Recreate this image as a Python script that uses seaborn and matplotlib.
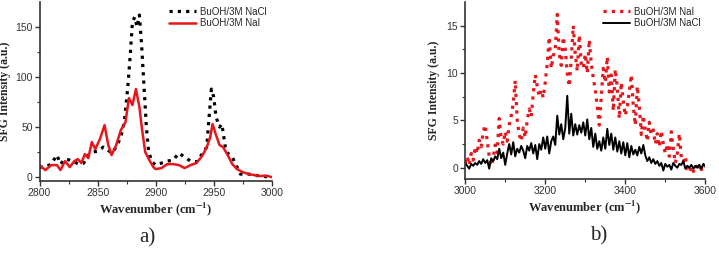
import numpy as np
import pandas as pd
import matplotlib
matplotlib.use("Agg")
import matplotlib.pyplot as plt
import seaborn as sns

# === data: panel a (C-H region) ===
wn_a = [2800, 2805, 2810, 2815, 2818, 2822, 2826, 2830, 2833, 2836, 2839, 2842, 2845,
        2848, 2852, 2856, 2859, 2862, 2866, 2870, 2874, 2877, 2880, 2883, 2886, 2888,
        2891, 2895, 2898, 2900, 2905, 2910, 2915, 2920, 2925, 2930, 2935, 2940, 2944,
        2947, 2949, 2952, 2955, 2958, 2962, 2966, 2970, 2975, 2980, 2985, 2990, 2995, 3000]
nai_a = [12, 7, 12, 12, 7, 16, 10, 16, 18, 14, 23, 19, 35,
         28, 38, 52, 33, 22, 32, 47, 55, 79, 72, 88, 70, 50,
         25, 16, 10, 8, 9, 13, 13, 12, 9, 12, 14, 21, 30,
         40, 53, 42, 32, 30, 22, 13, 8, 5, 3, 2, 1, 1.5, 0]

wn_a2 = [2800, 2805, 2810, 2815, 2818, 2822, 2826, 2830, 2834, 2838, 2842, 2846, 2850,
         2855, 2858, 2862, 2866, 2870, 2873, 2876, 2878, 2880, 2882, 2884, 2886, 2888,
         2890, 2892, 2894, 2897, 2900, 2905, 2910, 2915, 2920, 2925, 2930, 2935, 2940,
         2944, 2946, 2948, 2950, 2952, 2955, 2957, 2960, 2963, 2966, 2970, 2973, 2980,
         2990, 3000]
nacl_a = [10, 10, 13, 22, 13, 18, 17, 15, 13, 14, 22, 25, 26,
          30, 28, 24, 30, 40, 55, 90, 120, 155, 160, 150, 162, 130,
          90, 50, 25, 15, 12, 14, 16, 17, 24, 20, 16, 15, 23,
          30, 60, 88, 80, 60, 50, 53, 30, 22, 20, 10, 3, 3,
          1, 0]

# === data: panel b (O-H region), every 5 cm-1 from 3000 to 3600 ===
wn_b = np.arange(3000, 3601, 5)
nai_b = [0.5, 1.2, 0.3, 1.5, 0.8, 2.2, 1.5, 2.9, 2.2, 3.8, 4.5, 2.8, 1.2, 0.2, 1.0, 2.4,
         1.6, 5.2, 3.0, 2.5, 3.8, 2.8, 4.5, 5.5, 6.8, 9.2, 5.0, 3.5, 2.8, 4.2, 3.2, 5.0,
         6.2, 5.4, 7.8, 9.8, 8.6, 7.5, 8.2, 7.4, 9.0, 11.0, 13.8, 10.5, 11.8, 12.5, 16.2, 12.0,
         10.8, 13.8, 12.5, 10.0, 8.6, 11.5, 15.0, 12.0, 10.2, 14.0, 11.0, 10.5, 12.0, 10.0, 13.5, 11.0,
         9.5, 8.2, 6.5, 4.5, 7.5, 10.5, 9.0, 11.7, 8.0, 9.8, 6.0, 10.4, 8.5, 5.2, 9.0, 7.0,
         5.5, 6.5, 8.0, 9.8, 6.5, 4.5, 8.6, 6.5, 3.5, 5.5, 4.0, 2.8, 4.8, 3.5, 4.0, 2.5,
         3.6, 2.2, 3.9, 2.5, 1.5, 2.5, 1.2, 3.8, 2.0, 0.5, 1.5, 3.6, 1.0, 0.6, 1.2, -0.2,
         -0.5, 0.1, -0.4, 0.3, -0.3, 0.4, -0.2, 0.3, 0.1]
nacl_b = [0.5, 0.2, -0.1, 0.4, 0.2, 0.5, 0.3, 0.7, 0.4, 0.9, 0.5, 0.8, -0.1, 1.0, 0.7, 1.2,
          0.9, 2.0, 1.0, 1.6, 0.3, 1.5, 2.5, 1.4, 2.7, 1.2, 2.0, 1.6, 2.3, 1.8, 1.0, 2.3,
          1.8, 2.6, 1.5, 2.4, 0.9, 2.5, 1.9, 3.2, 2.0, 3.3, 1.5, 2.8, 3.3, 2.4, 5.5, 3.5,
          4.6, 3.0, 4.2, 7.6, 3.6, 5.7, 3.4, 4.6, 3.5, 4.5, 3.7, 4.8, 3.4, 5.1, 3.0, 4.2,
          2.2, 3.6, 2.0, 2.8, 1.8, 3.2, 2.0, 4.1, 2.4, 3.6, 1.9, 3.2, 1.7, 2.8, 1.5, 2.7,
          1.3, 2.6, 1.1, 2.3, 1.4, 1.9, 1.3, 2.2, 1.5, 2.4, 1.3, 0.7, 1.1, 0.5, 0.9, 0.4,
          0.7, 0.2, 0.5, -0.3, 0.4, 0.1, 0.3, -0.2, 0.5, 0.2, 0.0, 0.4, 0.3, 0.7, -0.1, 0.2,
          0.0, 0.3, -0.1, 0.2, 0.0, 0.3, -0.1, 0.4, 0.2]

sns.set_style("ticks")
plt.rcParams["font.family"] = ["Liberation Sans", "DejaVu Sans"]
plt.rcParams["mathtext.fontset"] = "stix"

fig = plt.figure(figsize=(7.19, 2.54), dpi=100)
ax1 = fig.add_axes([0.055, 0.287, 0.323, 0.705])
ax2 = fig.add_axes([0.647, 0.295, 0.334, 0.697])

dot = (1.0, 1.6)

# --- panel a ---
sns.lineplot(x=wn_a2, y=nacl_a, ax=ax1, color="black", lw=2.3, label="BuOH/3M NaCl")
ax1.lines[-1].set_dashes(dot)
sns.lineplot(x=wn_a, y=nai_a, ax=ax1, color="#e8161b", lw=1.8, label="BuOH/3M NaI")
ax1.set_xlim(2800, 3000)
ax1.set_ylim(-4, 175)
ax1.set_xticks([2800, 2850, 2900, 2950, 3000])
ax1.set_xticks([2825, 2875, 2925, 2975], minor=True)
ax1.set_yticks([0, 50, 100, 150])
ax1.set_yticks([25, 75, 125], minor=True)

# --- panel b ---
sns.lineplot(x=wn_b, y=nai_b, ax=ax2, color="#e8161b", lw=2.3, label="BuOH/3M NaI")
ax2.lines[-1].set_dashes(dot)
sns.lineplot(x=wn_b, y=nacl_b, ax=ax2, color="black", lw=1.4, label="BuOH/3M NaCl")
ax2.set_xlim(3000, 3600)
ax2.set_ylim(-1.2, 17.5)
ax2.set_xticks([3000, 3200, 3400, 3600])
ax2.set_xticks([3100, 3300, 3500], minor=True)
ax2.set_yticks([0, 5, 10, 15])
ax2.set_yticks([2.5, 7.5, 12.5], minor=True)

for ax, lx in [(ax1, -0.122), (ax2, -0.104)]:
    sns.despine(ax=ax)
    for s in ["left", "bottom"]:
        ax.spines[s].set_linewidth(1.2)
        ax.spines[s].set_color("#333333")
    ax.tick_params(which="major", direction="out", length=3.5, width=1, labelsize=7.5,
                   colors="#333333", pad=1.5)
    ax.tick_params(which="minor", direction="out", length=2, width=0.8, colors="#333333")
    ax.set_xlabel(r"Wavenumber (cm$^{\mathbf{-1}}$)", family="Liberation Serif",
                  fontweight="bold", fontsize=9, labelpad=2)
    ax.set_ylabel("SFG Intensity (a.u.)", family="Liberation Serif",
                  fontweight="bold", fontsize=8.5)
    ax.yaxis.set_label_coords(lx, 0.5)
    leg = ax.legend(loc="upper right", frameon=False, fontsize=7,
                    handlelength=2.8, handletextpad=0.4, labelspacing=0.15,
                    borderaxespad=0.1)

fig.text(0.205, 0.063, "a)", family="Liberation Serif", fontsize=15, ha="center", va="center")
fig.text(0.832, 0.071, "b)", family="Liberation Serif", fontsize=15, ha="center", va="center")

fig.savefig("out.png", dpi=100)
